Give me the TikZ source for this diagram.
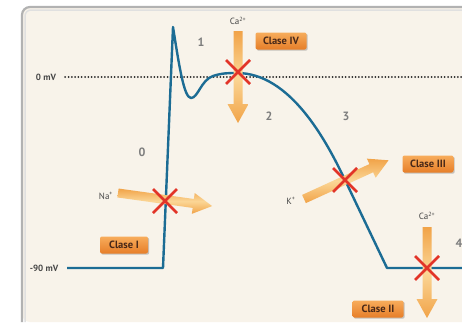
\documentclass[tikz,border=0pt]{standalone}
\usepackage{fontspec}
\setmainfont{PT Sans}
\usetikzlibrary{shadows,calc}
\definecolor{cream}{RGB}{248,243,234}
\definecolor{apblue}{RGB}{28,108,148}
\definecolor{xred}{RGB}{226,52,40}
\definecolor{arrlight}{RGB}{251,214,150}
\definecolor{arrdark}{RGB}{241,163,72}
\definecolor{boxtop}{RGB}{247,172,92}
\definecolor{boxbot}{RGB}{230,126,40}
\definecolor{boxtext}{RGB}{72,40,24}
\definecolor{labgray}{RGB}{70,70,70}
\definecolor{numgray}{RGB}{125,125,125}
\newcommand\fatarrow[3]{%
  \begin{scope}[shift={#1}, rotate=#2]
    \shade[top color=arrdark, bottom color=arrdark, middle color=arrlight]
      (0,-4.5) -- (#3-19,-4.5) -- (#3-19,-10.5) -- (#3,0) -- (#3-19,10.5) -- (#3-19,4.5) -- (0,4.5) -- cycle;
  \end{scope}}
\newcommand\redx[1]{%
  \draw[xred, line width=2.6pt] ($#1+(-12,-12)$) -- ($#1+(12,12)$) ($#1+(-12,12)$) -- ($#1+(12,-12)$);}
\begin{document}
\begin{tikzpicture}[x=1pt,y=-1pt,
  clasebox/.style={rounded corners=2pt, top color=boxtop, bottom color=boxbot, text=boxtext,
    font=\bfseries\fontsize{10.5}{11}\selectfont, minimum width=51pt, minimum height=17pt, inner sep=0pt,
    drop shadow={shadow xshift=1.2pt, shadow yshift=-1.2pt, opacity=0.35, fill=black!60}},
  axlabel/.style={text=labgray, font=\bfseries\fontsize{9}{10}\selectfont, inner sep=0pt},
  ionlabel/.style={text=labgray, font=\fontsize{9}{10}\selectfont, inner sep=0pt},
  phase/.style={text=numgray, font=\bfseries\fontsize{12}{13}\selectfont, inner sep=0pt}]
\useasboundingbox (0,0) rectangle (462,332);
\fill[white] (0,0) rectangle (462,332);
\fill[cream, rounded corners=8pt] (22,7) rectangle (480,322);
\draw[black!30, line width=2.2pt, rounded corners=8pt] (22,322) -- (22,7) -- (480,7);
\draw[black!12, line width=1.5pt, rounded corners=6pt] (25,322) -- (25,10) -- (480,10);

% axis labels and zero line
\node[axlabel] (zero) at (46,77) {0 mV};
\node[axlabel] (minus) at (44,268) {-90 mV};
\coordinate (dotend) at (462,77);
\draw[black!85, line width=2pt, line cap=round, dash pattern=on 0pt off 3.3pt] ($(zero.east)+(9,0)$) -- (dotend);

% action potential
\coordinate (base) at (67,268);
\coordinate (foot) at (163,268);
\coordinate (peak) at (173,27);
\coordinate (notch) at (191,98);
\coordinate (plat) at (237,73);
\coordinate (kx) at (345,180);
\coordinate (rest) at (387,268);
\coordinate (restend) at (470,268);
\draw[apblue, line width=2.4pt, line join=round] (base) -- (foot) -- (peak)
  .. controls (179,65) and (184,98) .. (notch)
  .. controls (198,98) and (201,80) .. (213,76)
  .. controls (222,73) and (229,73) .. (plat)
  .. controls (290,73) and (326,140) .. (kx) -- (rest) -- (restend);

% phase numbers
\node[phase] (p0) at (142,152) {0};
\node[phase] (p1) at (201,42) {1};
\node[phase] (p2) at (269,116) {2};
\node[phase] (p3) at (346,116) {3};
\node[phase] (p4) at (459,243) {4};

% ion arrows
\fatarrow{(238,31)}{-90}{92}
\fatarrow{(118,193)}{-7.9}{95}
\fatarrow{(304,199)}{24.6}{93}
\fatarrow{(427,227)}{-90}{91}

% ion labels
\node[ionlabel] (ca1) at (238,21) {Ca\textsuperscript{2+}};
\node[ionlabel] (na) at (106,196) {Na\textsuperscript{+}};
\node[ionlabel] (k) at (291,201) {K\textsuperscript{+}};
\node[ionlabel] (ca2) at (427,216) {Ca\textsuperscript{2+}};

% blocks
\coordinate (x1) at (238,72);
\coordinate (x2) at (165,201);
\coordinate (x3) at (345,180);
\coordinate (x4) at (427,268);
\redx{(x1)}
\redx{(x2)}
\redx{(x3)}
\redx{(x4)}

% class boxes
\node[clasebox] (c4) at (281,41) {Clase IV};
\node[clasebox] (c3) at (428,164) {Clase III};
\node[clasebox] (c2) at (378,309) {Clase II};
\node[clasebox, minimum width=48pt] (c1) at (124,245) {Clase I};
\end{tikzpicture}
\end{document}
